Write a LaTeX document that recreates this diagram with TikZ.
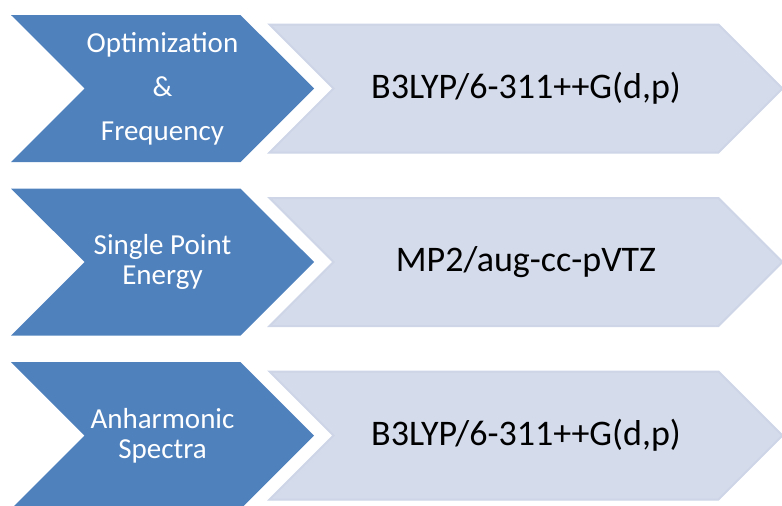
\documentclass[tikz,border=0pt]{standalone}
\usepackage{fontspec}
\setmainfont{Carlito}
\usetikzlibrary{shapes.symbols, positioning}
\definecolor{stepblue}{RGB}{79,129,189}
\definecolor{methodfill}{RGB}{212,219,235}
\definecolor{methodline}{RGB}{205,213,230}
\tikzstyle{stage} = [signal, signal from=west, signal to=east, signal pointer angle=90, inner sep=0pt, minimum width=303pt, minimum height=147pt, align=center, fill=stepblue, text=white, font=\fontsize{29}{30}\selectfont]
\tikzstyle{method} = [signal, signal from=west, signal to=east, signal pointer angle=90, inner sep=0pt, minimum width=513pt, minimum height=128pt, align=center, fill=methodfill, draw=methodline, line width=2pt, text=black, font=\fontsize{36}{38}\selectfont]

\begin{document}
\begin{tikzpicture}[x=1pt, y=-1pt, node distance=173.5pt]
\useasboundingbox (0,0) rectangle (782,506);
  % Define the blocks
\node (opt) [stage] at (162.5,88.5) {Optimization\\[14pt]\&\\[14pt]Frequency};
\node (spe) [stage, below of=opt] {Single Point\\Energy};
\node (anh) [stage, below of=spe] {Anharmonic\\Spectra};

% Methods next to each stage
\node (optlevel) [method] at (526,88.5) {B3LYP/6-311++G(d,p)};
\node (spelevel) [method, below of=optlevel] {MP2/aug-cc-pVTZ};
\node (anhlevel) [method, below of=spelevel] {B3LYP/6-311++G(d,p)};

\end{tikzpicture}
\end{document}
